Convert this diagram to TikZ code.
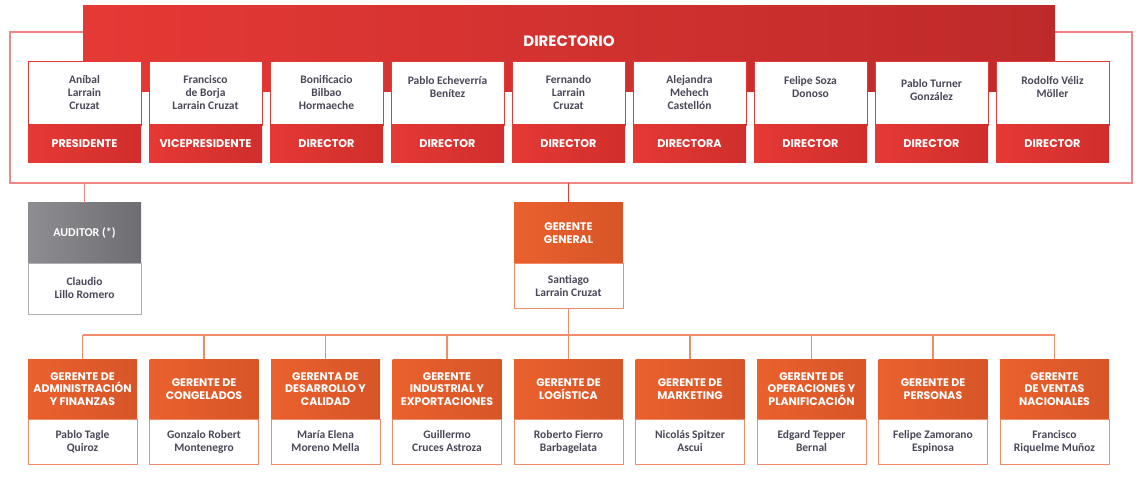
\documentclass[tikz,border=0pt]{standalone}
\usepackage{fontspec}
\usepackage{xcolor}
\usepackage{tikz}
\usetikzlibrary{positioning}

\newfontfamily\headfont{Poppins}
\newfontfamily\namefont{Carlito}

\definecolor{dirred}{RGB}{229,57,53}
\definecolor{dirdark}{RGB}{190,42,42}
\definecolor{banddark}{RGB}{208,46,44}
\definecolor{framered}{RGB}{240,135,135}
\definecolor{gerorange}{RGB}{234,97,45}
\definecolor{gerdark}{RGB}{215,85,40}
\definecolor{lineorange}{RGB}{240,140,105}
\definecolor{audgray}{RGB}{142,141,146}
\definecolor{auddark}{RGB}{110,109,114}
\definecolor{namegray}{RGB}{72,72,88}

\begin{document}
\begin{tikzpicture}[x=1pt, y=-1pt,
		namebox/.style={draw=dirred, line width=0.8pt, fill=white, minimum width=113, minimum height=64, inner sep=0, outer sep=0, align=center, text=namegray, font=\namefont\bfseries\fontsize{11.5}{13}\selectfont},
		roleband/.style={left color=dirred, right color=banddark, minimum width=113, minimum height=38, inner sep=0, outer sep=0, text=white, font=\headfont\bfseries\fontsize{11.2}{12.5}\selectfont},
		gerband/.style={left color=gerorange, right color=gerdark, minimum width=109, minimum height=60, inner sep=0, outer sep=0, align=center, text=white, font=\headfont\bfseries\fontsize{11}{12.5}\selectfont},
		gername/.style={draw=lineorange, line width=1pt, fill=white, minimum width=109, minimum height=45, inner sep=0, outer sep=0, align=center, text=namegray, font=\namefont\bfseries\fontsize{11.5}{13}\selectfont}]
		\useasboundingbox (0,0) rectangle (1146,481);

		% directorio
		\node[draw=framered, line width=1.2pt, minimum width=1122, minimum height=151, inner sep=0, outer sep=0] (board) at (571,107.5) {};
		\node[left color=dirred, right color=dirdark, minimum width=972, minimum height=86, inner sep=0] (dir) at (569,49) {};
		\node[text=white, font=\headfont\bfseries\fontsize{15}{17}\selectfont] (dirlabel) at (569,41) {DIRECTORIO};

		\node[namebox] (d1) at (84.5,93) {Aníbal\\Larrain\\Cruzat};
		\node[namebox] (d2) at (205.5,93) {Francisco\\de Borja\\Larrain Cruzat};
		\node[namebox] (d3) at (326.5,93) {Bonificacio\\Bilbao\\Hormaeche};
		\node[namebox] (d4) at (447.5,93) {Pablo Echeverría\\Benítez\\\mbox{}};
		\node[namebox] (d5) at (568.5,93) {Fernando\\Larrain\\Cruzat};
		\node[namebox] (d6) at (689.5,93) {Alejandra\\Mehech\\Castellón};
		\node[namebox] (d7) at (810.5,93) {Felipe Soza\\Donoso\\\mbox{}};
		\node[namebox] (d8) at (931.5,93) {Pablo Turner\\González\\[-6pt]\mbox{}};
		\node[namebox] (d9) at (1052.5,93) {Rodolfo Véliz\\Möller\\\mbox{}};

		\node[roleband, below=0pt of d1] (r1) {PRESIDENTE};
		\node[roleband, below=0pt of d2] (r2) {VICEPRESIDENTE};
		\node[roleband, below=0pt of d3] (r3) {DIRECTOR};
		\node[roleband, below=0pt of d4] (r4) {DIRECTOR};
		\node[roleband, below=0pt of d5] (r5) {DIRECTOR};
		\node[roleband, below=0pt of d6] (r6) {DIRECTORA};
		\node[roleband, below=0pt of d7] (r7) {DIRECTOR};
		\node[roleband, below=0pt of d8] (r8) {DIRECTOR};
		\node[roleband, below=0pt of d9] (r9) {DIRECTOR};

		% auditor
		\node[gerband, left color=audgray, right color=auddark, minimum width=113, font=\namefont\bfseries\fontsize{12}{14}\selectfont] (aud) at (84.5,233) {AUDITOR (*)};
		\node[gername, draw=audgray!70, minimum width=113, minimum height=51, below=0pt of aud] (audn) {Claudio\\Lillo Romero};
		\draw[framered, line width=1.2pt] (board.south -| aud.north) -- (aud.north);

		% gerencia general
		\node[gerband] (gg) at (568.5,233) {GERENTE\\GENERAL};
		\node[gername, below=0pt of gg] (ggn) {Santiago\\Larrain Cruzat};
		\draw[dirred, line width=1pt] (board.south -| gg.north) -- (gg.north);

		% gerencias
		\node[gerband] (g1) at (82.5,389) {GERENTE DE\\ADMINISTRACIÓN\\Y FINANZAS};
		\node[gerband] (g2) at (204,389) {GERENTE DE\\CONGELADOS};
		\node[gerband] (g3) at (325.5,389) {GERENTA DE\\DESARROLLO Y\\CALIDAD};
		\node[gerband] (g4) at (447,389) {GERENTE\\INDUSTRIAL Y\\EXPORTACIONES};
		\node[gerband] (g5) at (568.5,389) {GERENTE DE\\LOGÍSTICA};
		\node[gerband] (g6) at (690,389) {GERENTE DE\\MARKETING};
		\node[gerband] (g7) at (811.5,389) {GERENTE DE\\OPERACIONES Y\\PLANIFICACIÓN};
		\node[gerband] (g8) at (933,389) {GERENTE DE\\PERSONAS};
		\node[gerband] (g9) at (1054.5,389) {GERENTE\\DE VENTAS\\NACIONALES};

		\node[gername, below=0pt of g1] (p1) {Pablo Tagle\\Quiroz};
		\node[gername, below=0pt of g2] (p2) {Gonzalo Robert\\Montenegro};
		\node[gername, below=0pt of g3] (p3) {María Elena\\Moreno Mella};
		\node[gername, below=0pt of g4] (p4) {Guillermo\\Cruces Astroza};
		\node[gername, below=0pt of g5] (p5) {Roberto Fierro\\Barbagelata};
		\node[gername, below=0pt of g6] (p6) {Nicolás Spitzer\\Ascui};
		\node[gername, below=0pt of g7] (p7) {Edgard Tepper\\Bernal};
		\node[gername, below=0pt of g8] (p8) {Felipe Zamorano\\Espinosa};
		\node[gername, below=0pt of g9] (p9) {Francisco\\Riquelme Muñoz};

		\coordinate (bus) at (568.5,335);
		\draw[lineorange, line width=1.2pt] (ggn.south) -- (ggn.south |- bus);
		\draw[lineorange, line width=1.2pt] (g1.north |- bus) -- (g9.north |- bus);
		\foreach \i in {1,...,9}
			\draw[lineorange, line width=1.2pt] (g\i.north |- bus) -- (g\i.north);
	\end{tikzpicture}
\end{document}
